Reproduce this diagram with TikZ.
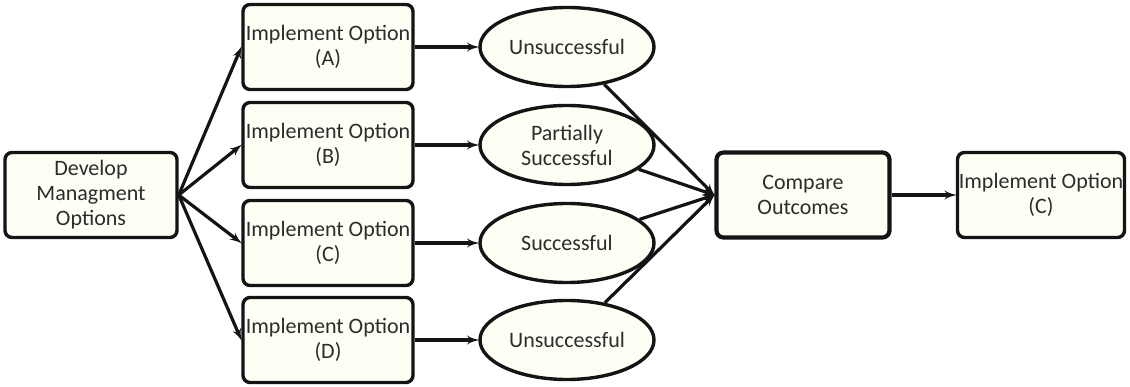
\documentclass[tikz,border=0pt]{standalone}
\usepackage{fontspec}
\setmainfont{Carlito}
\usepackage{tikz}
\usetikzlibrary{arrows,shapes.geometric}
\definecolor{cream}{HTML}{FEFEF4}
\definecolor{ink}{HTML}{141414}

\begin{document}
\begin{tikzpicture}[x=1pt,y=-1pt]
        \tikzset{step box/.style = {shape=rectangle,draw=ink,fill=cream,line width=3.4pt,rounded corners=7pt,
                minimum width=170pt,minimum height=85pt,inner sep=1pt,align=center,font=\fontsize{22}{25}\selectfont,text=ink!90}}
        \tikzset{outcome/.style = {shape=ellipse,draw=ink,fill=cream,line width=3.4pt,
                minimum width=174pt,minimum height=79pt,inner sep=0pt,align=center,font=\fontsize{22}{25}\selectfont,text=ink!90}}
        \tikzset{edge/.style = {->,> = latex',line width=3.2pt,draw=ink,shorten >=-1pt}}
        \useasboundingbox (0,0) rectangle (1130,387);
        % vertices
        \node[step box, minimum width=172pt] (develop) at (91,195) {Develop\\Managment\\Options};
        \node[step box] (optA) at (328,47) {Implement Option\\(A)};
        \node[step box] (optB) at (328,145) {Implement Option\\(B)};
        \node[step box] (optC) at (328,243) {Implement Option\\(C)};
        \node[step box] (optD) at (328,340) {Implement Option\\(D)};
        \node[outcome] (resA) at (567,47) {Unsuccessful};
        \node[outcome] (resB) at (567,145) {Partially\\Successful};
        \node[outcome] (resC) at (567,243) {Successful};
        \node[outcome] (resD) at (567,340) {Unsuccessful};
        \node[step box, minimum width=173pt, line width=4.2pt] (compare) at (803,195) {Compare\\Outcomes};
        \node[step box, minimum width=167pt] (final) at (1041,195) {Implement Option\\(C)};
        %edges
        \draw[edge] (develop.east) to (optA.west);
        \draw[edge] (develop.east) to (optB.west);
        \draw[edge] (develop.east) to (optC.west);
        \draw[edge] (develop.east) to (optD.west);
        \draw[edge] (optA) to (resA);
        \draw[edge] (optB) to (resB);
        \draw[edge] (optC) to (resC);
        \draw[edge] (optD) to (resD);
        \draw[edge] (resA) to (compare.west);
        \draw[edge] (resB) to (compare.west);
        \draw[edge] (resC) to (compare.west);
        \draw[edge] (resD) to (compare.west);
        \draw[edge] (compare) to (final);
    \end{tikzpicture}
\end{document}
